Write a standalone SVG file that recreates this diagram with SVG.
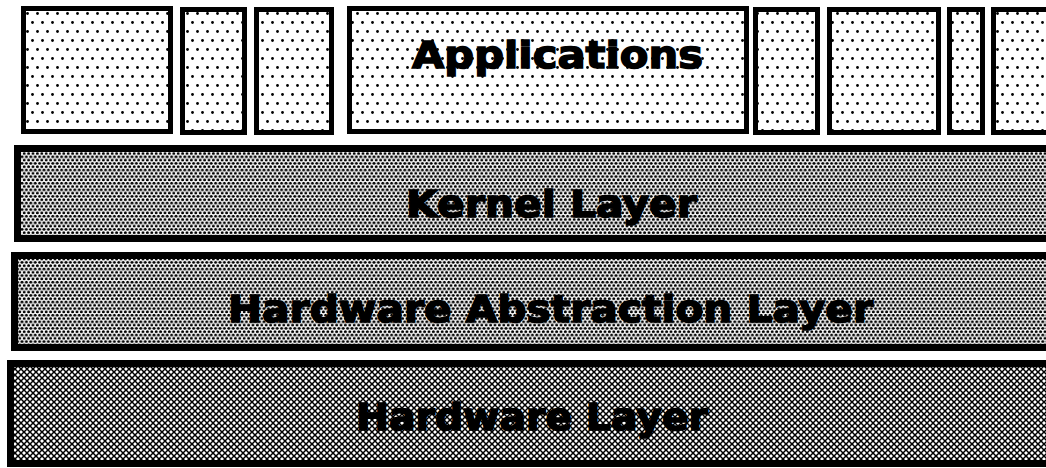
<svg xmlns="http://www.w3.org/2000/svg" width="1046" height="468" viewBox="0 0 1046 468">
<defs>
<pattern id="dotsSparse" width="10" height="18" patternUnits="userSpaceOnUse">
<rect width="10" height="18" fill="#fff"/>
<circle cx="2.5" cy="4.5" r="1.4" fill="#000"/>
<circle cx="7.5" cy="13.5" r="1.4" fill="#000"/>
</pattern>
<pattern id="dotsDense" width="4.4" height="6.6" patternUnits="userSpaceOnUse">
<rect width="4.4" height="6.6" fill="#fff"/>
<circle cx="2.2" cy="1.65" r="1.5" fill="#000"/>
<circle cx="0" cy="4.95" r="1.5" fill="#000"/>
<circle cx="4.4" cy="4.95" r="1.5" fill="#000"/>
</pattern>
<pattern id="cross" width="6" height="6" patternUnits="userSpaceOnUse">
<rect width="6" height="6" fill="#fff"/>
<path d="M-1,-1 L7,7 M7,-1 L-1,7" stroke="#000" stroke-width="1.5"/>
</pattern>
</defs>
<style>
.app{fill:url(#dotsSparse);stroke:#000;stroke-width:5}
.layer{stroke:#000;stroke-width:7}
.lbl{font-family:"DejaVu Sans","Liberation Sans",sans-serif;font-weight:bold;font-size:38px;fill:#000;stroke:#000;stroke-width:1.5}
</style>
<g id="app1"><rect class="app" x="23.5" y="8.5" width="147" height="123"/></g>
<g id="app2"><rect class="app" x="182.5" y="9.5" width="62" height="123"/></g>
<g id="app3"><rect class="app" x="256.5" y="9.5" width="75" height="123"/></g>
<g id="applications"><rect class="app" x="349.5" y="8.5" width="397" height="123"/>
<text class="lbl" x="412" y="68" textLength="291" lengthAdjust="spacingAndGlyphs">Applications</text></g>
<g id="app5"><rect class="app" x="755.5" y="9.5" width="62" height="123"/></g>
<g id="app6"><rect class="app" x="829.5" y="9.5" width="109" height="123"/></g>
<g id="app7"><rect class="app" x="949.5" y="9.5" width="33" height="123"/></g>
<g id="app8"><rect class="app" x="993.5" y="9.5" width="70" height="123"/></g>
<g id="kernel"><rect class="layer" fill="url(#dotsDense)" x="17.5" y="148.5" width="1040" height="90"/>
<text class="lbl" x="406" y="217" textLength="291" lengthAdjust="spacingAndGlyphs">Kernel Layer</text></g>
<g id="hal"><rect class="layer" fill="url(#dotsDense)" x="14.5" y="255.5" width="1040" height="92"/>
<text class="lbl" x="228" y="322" textLength="645" lengthAdjust="spacingAndGlyphs">Hardware Abstraction Layer</text></g>
<g id="hardware"><rect class="layer" fill="url(#cross)" x="10.5" y="363.5" width="1045" height="100"/>
<text class="lbl" x="356" y="430" textLength="352" lengthAdjust="spacingAndGlyphs">Hardware Layer</text></g>
<g id="connectors"/>
</svg>
